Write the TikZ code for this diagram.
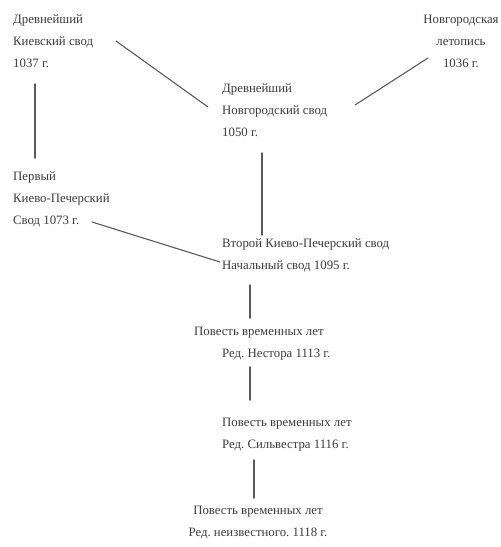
\documentclass[tikz,border=0pt]{standalone}
\usepackage{fontspec}
\setmainfont{Liberation Serif}
\frenchspacing
\usetikzlibrary{calc}
\providecommand{\Ink}{3A3A3A}
\providecommand{\Wire}{5A5A5A}
\newcommand{\Unit}{1pt}
\newcommand{\Wirew}{1.1pt}
\definecolor{ink}{HTML}{\Ink}
\definecolor{wire}{HTML}{\Wire}

\begin{document}
\begin{tikzpicture}[x=\Unit,y=-\Unit, line join=round, line cap=round,
  txt/.style={inner sep=0pt, text=ink, font=\fontsize{12.8}{22}\selectfont, align=left},
  link/.style={wire, line width=\Wirew},
  stem/.style={link, line width=1.5pt}]

  \useasboundingbox (0,0) rectangle (501,547);

  % ---- the oldest chronicles, top row ------------------------------------
  \node[txt, anchor=west] (kiev) at (13,41.5) {Древнейший\\Киевский свод\\1037 г.};
  \node[txt, align=center] (novlet) at (461,41.5) {Новгородская\\летопись\\1036 г.};
  \node[txt, anchor=west] (novsvod) at (222,110.5) {Древнейший\\Новгородский свод\\1050 г.};
  \node[txt, anchor=west] (pervyj) at (13,199.5) {Первый\\Киево-Печерский\\Свод 1073 г.};

  % ---- the primary chronicle and its editions ----------------------------
  \node[txt, anchor=west] (nachal) at (222,255.5) {Второй Киево-Печерский свод\\Начальный свод 1095 г.};
  \node[txt, anchor=west] (nestor) at (194,343.5) {Повесть временных лет\\\hspace*{28pt}Ред. Нестора 1113 г.};
  \node[txt, anchor=west] (silvestr) at (222,434.5) {Повесть временных лет\\Ред. Сильвестра 1116 г.};
  \node[txt, align=center] (neizv) at (258,522.5) {Повесть временных лет\\Ред. неизвестного. 1118 г.};

  % ---- connectors -----------------------------------------------------------
  \draw[link] ($(kiev.west)+(103,-0.5)$) -- ($(novsvod.west)+(-14,-3.5)$);
  \draw[link] ($(novlet.center)+(-33,16.5)$) -- ($(novsvod.west)+(133,-5.5)$);
  \draw[stem] ($(kiev.west)+(22,42.5)$) -- ($(pervyj.west)+(22,-41.5)$);
  \draw[stem] ($(novsvod.west)+(40,42.5)$) -- ($(nachal.west)+(40,-20.5)$);
  \draw[link] ($(pervyj.west)+(79,22.5)$) -- ($(nachal.west)+(-2,6.5)$);
  \draw[stem] ($(nachal.west)+(28,29.5)$) -- ($(nestor.west)+(56,-25.5)$);
  \draw[stem] ($(nestor.west)+(56,23.5)$) -- ($(silvestr.west)+(28,-34.5)$);
  \draw[stem] ($(silvestr.west)+(32,25.5)$) -- ($(neizv.center)+(-4,-24.5)$);

\end{tikzpicture}
\end{document}
